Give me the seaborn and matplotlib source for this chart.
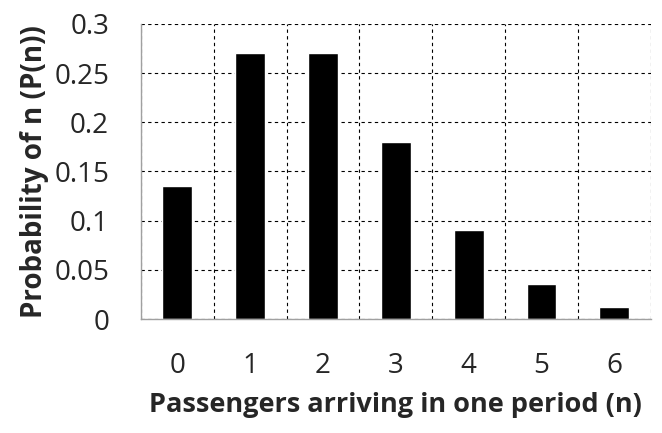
import numpy as np
import matplotlib.pyplot as plt
import seaborn as sns
from matplotlib.ticker import FuncFormatter, FixedLocator

# values
passengers = ["0", "1", "2", "3", "4", "5", "6"]
probability = [0.1353, 0.2707, 0.2707, 0.1804, 0.0902, 0.0361, 0.0120]

sns.set_style("white")
plt.rcParams['font.family'] = ['Open Sans', 'DejaVu Sans']

fig = plt.figure(figsize=(6.62, 4.33), dpi=100)
ax = fig.add_axes([0.213, 0.263, 0.77, 0.682])

sns.barplot(x=passengers, y=probability, color="black", width=0.41,
            saturation=1, ax=ax)

ax.set_xlim(-0.5, 6.5)
ax.set_ylim(0, 0.3)
ax.set_yticks(np.arange(0, 0.31, 0.05))
ax.yaxis.set_major_formatter(FuncFormatter(lambda v, p: "%g" % round(v, 2)))

# category boundaries get the vertical dashed lines and tick marks
ax.xaxis.set_minor_locator(FixedLocator(np.arange(-0.5, 7, 1)))
ax.grid(True, which="minor", axis="x", color="black", linestyle=(0, (3, 3)), linewidth=0.8)
ax.grid(True, which="major", axis="y", color="black", linestyle=(0, (3, 3)), linewidth=0.8)
ax.set_axisbelow(True)

ax.tick_params(axis="x", which="major", length=0, pad=24, labelsize=20)
ax.tick_params(axis="x", which="minor", length=8, width=0.8, color="#a0a0a0", direction="out")
ax.tick_params(axis="y", length=7, width=0.8, color="#a0a0a0", direction="out", pad=16, labelsize=20)

for side in ["top", "right"]:
    ax.spines[side].set_visible(False)
for side in ["left", "bottom"]:
    ax.spines[side].set_color("#a0a0a0")
    ax.spines[side].set_linewidth(1.0)

ax.set_xlabel("Passengers arriving in one period (n)", fontsize=19.5, fontweight="bold", labelpad=8)
ax.set_ylabel("Probability of n (P(n))", fontsize=20, fontweight="bold", labelpad=4)

plt.savefig("out.png", dpi=100)
